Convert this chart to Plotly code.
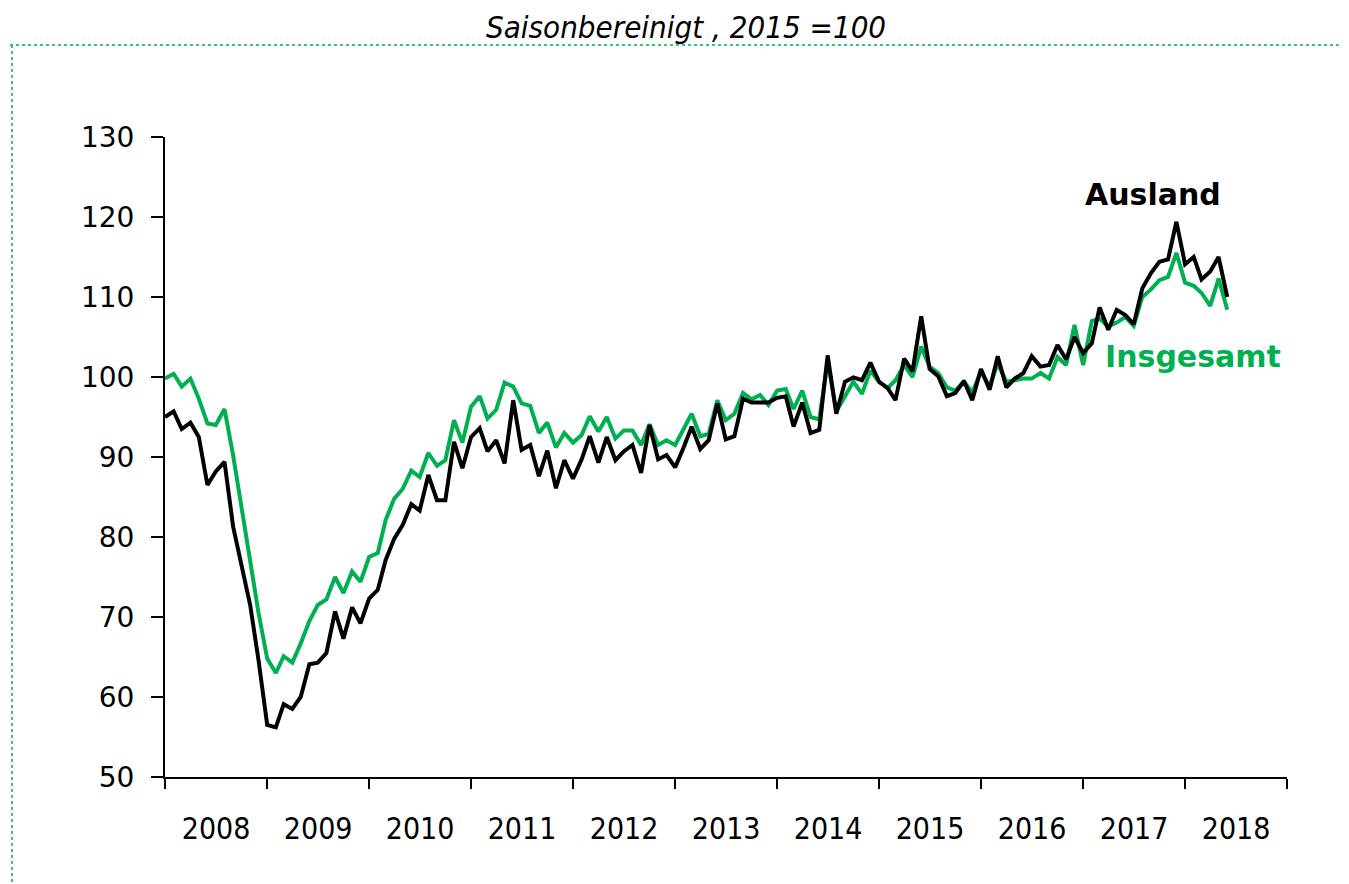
import plotly.graph_objects as go
import pandas as pd

months = pd.date_range("2008-01-01", "2018-06-01", freq="MS").strftime("%Y-%m-%d").tolist()

insgesamt = [
    99.8, 100.4, 98.8, 99.8, 97.3, 94.2, 94.0, 96.0, 90.2, 83.8, 76.7, 70.5,
    64.8, 63.0, 65.1, 64.3, 66.7, 69.5, 71.5, 72.2, 75.0, 73.0, 75.7, 74.4,
    77.5, 78.0, 82.1, 84.8, 86.0, 88.3, 87.5, 90.5, 88.9, 89.6, 94.6, 91.8,
    96.3, 97.6, 94.8, 95.9, 99.3, 98.8, 96.7, 96.4, 93.0, 94.3, 91.2, 93.0,
    91.8, 92.75, 95.1, 93.2, 95.0, 92.3, 93.3, 93.3, 91.5, 94.1, 91.5, 92.1,
    91.5, 93.5, 95.4, 92.6, 92.9, 97.1, 94.6, 95.4, 98.0, 97.2, 97.75, 96.5,
    98.3, 98.5, 96.0, 98.3, 95.0, 94.7, 102.0, 95.7, 97.5, 99.4, 97.9, 100.8,
    99.4, 98.6, 99.6, 101.5, 100.0, 103.8, 101.3, 100.5, 98.7, 98.3, 99.4, 98.1,
    100.7, 98.8, 101.7, 99.4, 99.6, 99.8, 99.8, 100.5, 99.8, 102.5, 101.5, 106.5,
    101.5, 107.0, 107.3, 106.3, 106.8, 107.5, 106.4, 110.0, 110.95, 112.1, 112.5, 115.5,
    111.8, 111.4, 110.5, 108.9, 112.3, 108.4,
]

ausland = [
    95.0, 95.7, 93.5, 94.3, 92.5, 86.5, 88.2, 89.4, 81.3, 76.5, 71.5, 64.6,
    56.5, 56.2, 59.1, 58.5, 60.0, 64.1, 64.3, 65.5, 70.7, 67.3, 71.2, 69.2,
    72.3, 73.4, 77.1, 79.8, 81.5, 84.1, 83.3, 87.75, 84.6, 84.6, 91.9, 88.6,
    92.5, 93.6, 90.7, 92.1, 89.2, 97.1, 90.9, 91.5, 87.6, 90.8, 86.1, 89.6,
    87.3, 89.7, 92.6, 89.3, 92.5, 89.6, 90.7, 91.5, 88.0, 94.0, 89.7, 90.25,
    88.7, 91.25, 93.8, 91.0, 92.1, 96.7, 92.2, 92.6, 97.3, 96.8, 96.8, 96.8,
    97.4, 97.6, 93.8, 96.8, 93.0, 93.4, 102.7, 95.4, 99.4, 99.96, 99.6, 101.8,
    99.4, 98.6, 97.1, 102.3, 100.7, 107.6, 101.0, 100.1, 97.6, 98.0, 99.5, 97.1,
    101.0, 98.4, 102.6, 98.7, 99.8, 100.5, 102.6, 101.3, 101.5, 104.0, 102.2, 105.0,
    103.0, 104.2, 108.7, 105.9, 108.4, 107.75, 106.6, 111.1, 113.0, 114.4, 114.7, 119.4,
    114.1, 115.0, 112.2, 113.2, 115.0, 110.0,
]

title_text = "Saisonbereinigt , 2015 =100"
label_ausland = "Ausland"
label_insgesamt = "Insgesamt"

GREEN = "#00B050"
OFF = 8  # page body margin
W, H = 1349 - OFF, 884 - OFF
# plot area in page pixels: x 165..1287, y 137..777
L, T = 165 - OFF, 137 - OFF
R = W - (1287 - OFF)
B = H - (777 - OFF)
pw, ph = W - L - R, H - T - B

def px(x):
    return (x - OFF - L) / pw

def py(y):
    return (H - B - (y - OFF)) / ph

fig = go.Figure()
fig.add_trace(go.Scatter(x=months, y=insgesamt, mode="lines", name=label_insgesamt,
                         line=dict(color=GREEN, width=4), hoverinfo="x+y"))
fig.add_trace(go.Scatter(x=months, y=ausland, mode="lines", name=label_ausland,
                         line=dict(color="black", width=4), hoverinfo="x+y"))

fig.update_layout(
    width=W, height=H,
    margin=dict(l=L, r=R, t=T, b=B, pad=0),
    paper_bgcolor="white", plot_bgcolor="white",
    showlegend=False,
    font=dict(family="DejaVu Sans, sans-serif", color="black"),
    xaxis=dict(
        type="date",
        range=["2008-01-01", "2019-01-01"],
        tick0="2008-01-01", dtick="M12",
        tickformat="%Y", ticklabelmode="period",
        showgrid=False, zeroline=False,
        showline=True, linecolor="black", linewidth=2,
        ticks="outside", ticklen=10, tickwidth=2, tickcolor="black",
        tickfont=dict(size=30, family="DejaVu Sans Condensed, DejaVu Sans, sans-serif"),
        ticklabelstandoff=14,
    ),
    yaxis=dict(
        range=[50, 130], dtick=10, tick0=50,
        showgrid=False, zeroline=False,
        showline=True, linecolor="black", linewidth=2,
        ticks="outside", ticklen=12, tickwidth=2, tickcolor="black",
        tickfont=dict(size=28, family="DejaVu Sans, sans-serif"),
        ticklabelstandoff=11,
    ),
    annotations=[
        dict(text=title_text, xref="paper", yref="paper", x=px(686), y=py(8),
             showarrow=False, xanchor="center", yanchor="top", borderpad=0,
             font=dict(size=31, style="italic",
                       family="DejaVu Sans Condensed, DejaVu Sans, sans-serif")),
        dict(text="<b>" + label_ausland + "</b>", xref="paper", yref="paper",
             x=px(1153), y=py(195), showarrow=False, xanchor="center", yanchor="middle",
             font=dict(size=30, color="black", family="DejaVu Sans, sans-serif")),
        dict(text="<b>" + label_insgesamt + "</b>", xref="paper", yref="paper",
             x=px(1193), y=py(356), showarrow=False, xanchor="center", yanchor="middle",
             font=dict(size=30, color=GREEN, family="DejaVu Sans, sans-serif")),
    ],
    shapes=[
        dict(type="line", xref="paper", yref="paper", x0=px(10), x1=px(1349), y0=py(45), y1=py(45),
             line=dict(color=GREEN, width=1.5, dash="dot")),
        dict(type="line", xref="paper", yref="paper", x0=px(12), x1=px(12), y0=py(45), y1=py(884),
             line=dict(color=GREEN, width=1.5, dash="dot")),
    ],
)

fig.write_html("out.html")
